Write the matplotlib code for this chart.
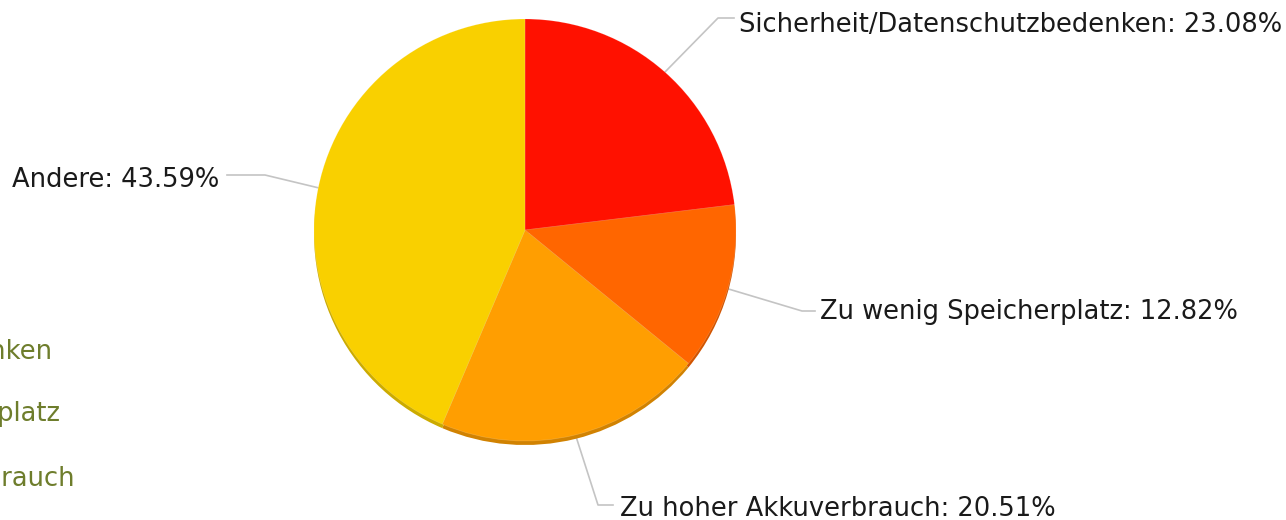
import matplotlib.pyplot as plt
import numpy as np

labels = ['Sicherheit/Datenschutzbedenken', 'Zu wenig Speicherplatz',
          'Zu hoher Akkuverbrauch', 'Andere']
values = [23.08, 12.82, 20.51, 43.59]
colors = ['#FF1100', '#FF6600', '#FF9E01', '#F9D000']

W, H = 1286, 520
fig = plt.figure(figsize=(W / 100, H / 100), dpi=100)
ax = fig.add_axes([0, 0, 1, 1])
ax.set_xlim(0, W)
ax.set_ylim(0, H)
ax.set_aspect('equal')
ax.axis('off')

cx, cy, r = 525, H - 230, 211

# darker copy underneath for the little 3d rim at the bottom
dark = [tuple(np.array(plt.matplotlib.colors.to_rgb(c)) * 0.82) for c in colors]
ax.pie(values, colors=dark, startangle=90, counterclock=False,
       center=(cx, cy - 4), radius=r, wedgeprops=dict(linewidth=0))
wedges, _ = ax.pie(values, colors=colors, startangle=90, counterclock=False,
                   center=(cx, cy), radius=r,
                   wedgeprops=dict(linewidth=0.5, edgecolor=(1, 1, 1, 0.2)))
ax.set_xlim(0, W)
ax.set_ylim(0, H)

# label positions (pixels from top): elbow, end of horizontal, text x, baseline
lab_pos = [
    ((718, 18), (734, 18), 739, 32, 'left'),
    ((802, 311), (815, 311), 820, 319, 'left'),
    ((598, 505), (613, 505), 620, 516, 'left'),
    ((265, 175), (227, 175), 219, 187, 'right'),
]
for w, lab, v, (elb, end, tx, ty, ha) in zip(wedges, labels, values, lab_pos):
    mid = np.deg2rad((w.theta1 + w.theta2) / 2)
    px, py = cx + r * np.cos(mid), cy + r * np.sin(mid)
    ax.plot([px, elb[0], end[0]], [py, H - elb[1], H - end[1]],
            color='#C4C4C4', lw=1.2, zorder=0)
    ax.text(tx, H - ty, f'{lab}: {v:.2f}%', ha=ha, va='baseline',
            fontsize=18.5, color='#1a1a1a')

# legend entries on the left, cut off by the figure edge like in the original
leg_pos = [(52, 359), (60, 421), (75, 486)]
for lab, (lx, ly) in zip(labels[:3], leg_pos):
    ax.text(lx, H - ly, lab, ha='right', va='baseline', fontsize=18.5,
            color='#6E7D2C')

fig.savefig('out.png', dpi=100)
